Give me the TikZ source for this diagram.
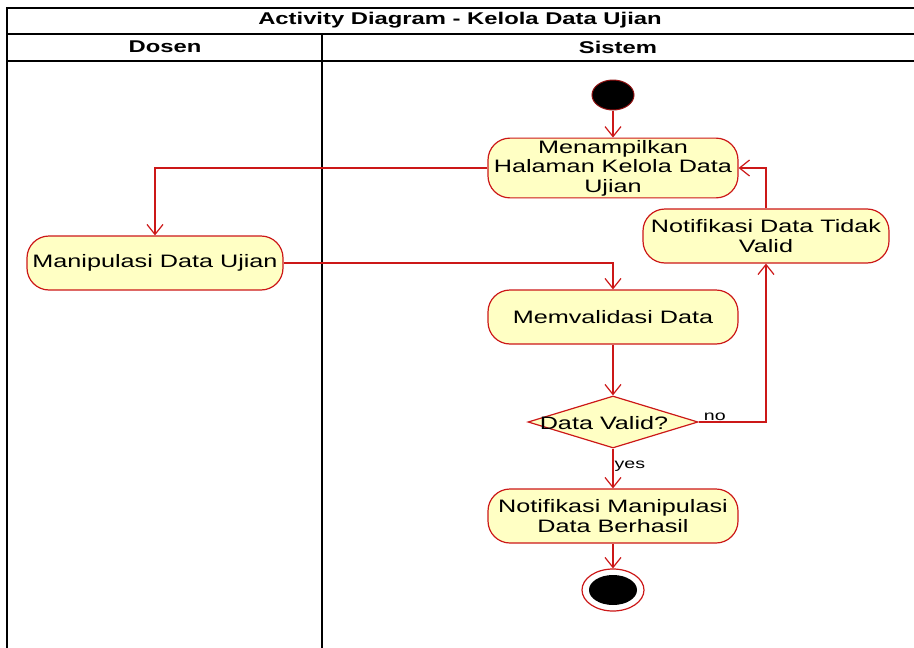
\documentclass[tikz,border=0pt]{standalone}
\usepackage{fontspec}
\setmainfont{Liberation Sans}[FakeStretch=1.4]
\usetikzlibrary{arrows.meta,shapes.geometric}
\definecolor{lred}{RGB}{204,24,24}
\definecolor{lyellow}{RGB}{255,255,196}
\begin{document}
\begin{tikzpicture}[x=1pt,y=-1pt,
  act/.style={draw=lred, fill=lyellow, rounded corners=22pt, minimum width=250pt, minimum height=54pt, align=center, inner sep=2pt, line width=1.2pt, font=\fontsize{18}{19.5}\selectfont},
  flow/.style={draw=lred, line width=1.2pt, -{Straight Barb[length=10pt,width=16pt]}},
  frame/.style={draw=black, line width=1.4pt},
  hdr/.style={font=\bfseries\fontsize{17}{19}\selectfont},
  lbl/.style={font=\fontsize{14}{16}\selectfont, inner sep=1pt}]
\useasboundingbox (0,0) rectangle (914,648);
% frame
\draw[frame] (914,8) -- (7,8) -- (7,648);
\draw[frame] (7,34) -- (914,34);
\draw[frame] (7,61) -- (914,61);
\draw[frame] (322,34) -- (322,648);
\node[hdr] (title) at (460,20) {Activity Diagram - Kelola Data Ujian};
\node[hdr] (dosen) at (165,47) {Dosen};
\node[hdr] (sistem) at (618,47) {Sistem};
% nodes
\node[ellipse, draw=lred!70!black, fill=black, minimum width=42pt, minimum height=30pt, inner sep=0pt, line width=1pt] (init) at (613,95) {};
\node[act] (tampil) at (613,168) {Menampilkan\\Halaman Kelola Data\\Ujian};
\node[act, minimum width=246pt] (tidak) at (766,236) {Notifikasi Data Tidak\\Valid};
\node[act, minimum width=256pt] (manip) at (155,263) {Manipulasi Data Ujian};
\node[act] (valid) at (613,317) {Memvalidasi Data};
\node[diamond, draw=lred, fill=lyellow, minimum width=170pt, minimum height=52pt, inner sep=0pt, line width=1.2pt] (dec) at (613,422) {};
\node[font=\fontsize{18}{19.5}\selectfont, inner sep=0pt] (dectext) at (604,423) {Data Valid?};
\node[act] (berhasil) at (613,516) {Notifikasi Manipulasi\\Data Berhasil};
\node[ellipse, draw=lred, fill=white, minimum width=62pt, minimum height=42pt, inner sep=0pt, line width=1.2pt] (final) at (613,590) {};
\node[ellipse, fill=black, minimum width=48pt, minimum height=30pt, inner sep=0pt] (finalin) at (final.center) {};
% edges
\draw[flow] (init) -- (tampil);
\draw[flow] (tampil.west) -| (manip.north);
\draw[flow] (manip.east) -| (valid.north);
\draw[flow] (valid) -- (dec.north);
\draw[flow] (dec.east) -| node[lbl, pos=0.12, above] (no) {no} (tidak.south);
\draw[flow] (tidak.north) |- (tampil.east);
\draw[flow] (dec.south) -- node[lbl, pos=0.45, right] (yes) {yes} (berhasil.north);
\draw[flow] (berhasil) -- (final);
\end{tikzpicture}
\end{document}
